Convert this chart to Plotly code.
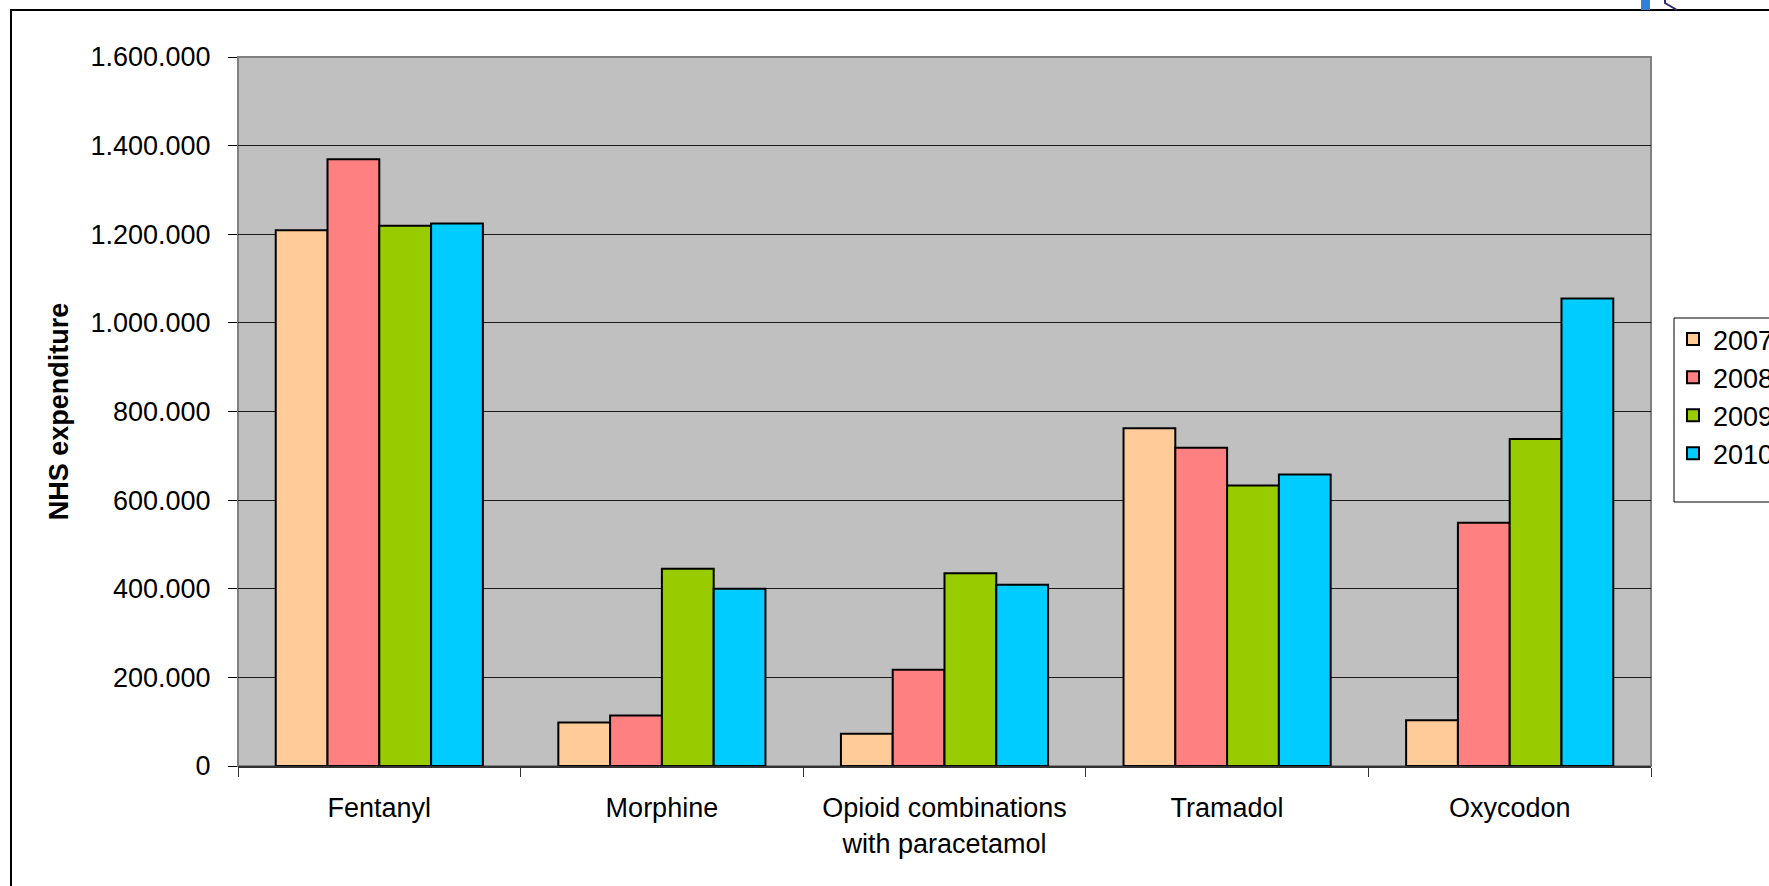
import plotly.graph_objects as go

# NHS expenditure on opioids by product and year
categories = ["Fentanyl", "Morphine", "Opioid combinations<br>with paracetamol", "Tramadol", "Oxycodon"]
years = ["2007", "2008", "2009", "2010"]
values_2007 = [1209000, 98000, 73000, 762000, 103000]
values_2008 = [1369000, 114000, 217000, 718000, 549000]
values_2009 = [1219000, 445000, 435000, 633000, 738000]
values_2010 = [1224000, 400000, 409000, 658000, 1055000]
series = [values_2007, values_2008, values_2009, values_2010]
colors = ["#FFCC99", "#FF8080", "#99CC00", "#00CCFF"]
y_ticks = [0, 200000, 400000, 600000, 800000, 1000000, 1200000, 1400000, 1600000]

FONT = "Liberation Sans, Arial, sans-serif"

W, H = 1769, 886
L, R, T, B = 238, 1651, 57, 766  # plot area in pixels
pw, ph = R - L, B - T


def px(x):
    return (x - L) / pw


def py(y):
    return (B - y) / ph


fig = go.Figure()
for year, vals, col in zip(years, series, colors):
    fig.add_trace(go.Bar(
        x=categories, y=vals, name=year,
        marker=dict(color=col, line=dict(color="black", width=2)),
    ))

fig.update_layout(
    width=W, height=H,
    margin=dict(l=L, r=W - R, t=T, b=H - B, autoexpand=False),
    paper_bgcolor="white",
    plot_bgcolor="#C0C0C0",
    barmode="group",
    bargap=0.267,
    bargroupgap=0,
    separators=",.",
    font=dict(family=FONT, size=27, color="black"),
    showlegend=True,
    legend=dict(
        x=px(1673), y=py(315), xanchor="left", yanchor="top",
        bgcolor="rgba(0,0,0,0)", borderwidth=0,
        font=dict(family=FONT, size=27, color="black"),
        traceorder="normal",
    ),
    xaxis=dict(
        type="category",
        showgrid=False,
        ticks="outside", tickson="boundaries", ticklen=9, tickcolor="#333333", tickwidth=1,
        showline=True, linecolor="#333333", linewidth=2,
        tickfont=dict(family=FONT, size=27, color="black"),
        ticklabelstandoff=17,
    ),
    yaxis=dict(
        range=[0, 1600000],
        tickvals=y_ticks,
        tickformat=",d",
        showgrid=True, gridcolor="#1a1a1a", gridwidth=1,
        ticks="outside", ticklen=9, tickcolor="black", tickwidth=1,
        showline=False, zeroline=False,
        tickfont=dict(family=FONT, size=27, color="black"),
        ticklabelstandoff=12,
        title=dict(text="<b>NHS expenditure</b>", standoff=14,
                   font=dict(family=FONT, size=27, color="black")),
    ),
    shapes=[
        # plot area border
        dict(type="rect", xref="paper", yref="paper", x0=0, x1=1, y0=0, y1=1,
             line=dict(color="#808080", width=2), layer="below"),
        # chart area frame
        dict(type="rect", xref="paper", yref="paper",
             x0=px(11), x1=px(1800), y0=py(920), y1=py(10),
             line=dict(color="black", width=2), fillcolor="rgba(0,0,0,0)"),
        # legend box
        dict(type="rect", xref="paper", yref="paper",
             x0=px(1674), x1=px(1800), y0=py(502), y1=py(318),
             line=dict(color="black", width=1), fillcolor="white"),
        # small blue marker at top edge
        dict(type="rect", xref="paper", yref="paper",
             x0=px(1641), x1=px(1650), y0=py(10), y1=py(-2),
             line=dict(width=0), fillcolor="#2F80D8"),
        # pointer stroke near the top edge
        dict(type="path", xref="paper", yref="paper",
             path=f"M {px(1665)},{py(-2)} L {px(1665)},{py(3)} L {px(1677)},{py(10)}",
             line=dict(color="#2B2B6B", width=2)),
    ],
)

fig.write_html("out.html")
